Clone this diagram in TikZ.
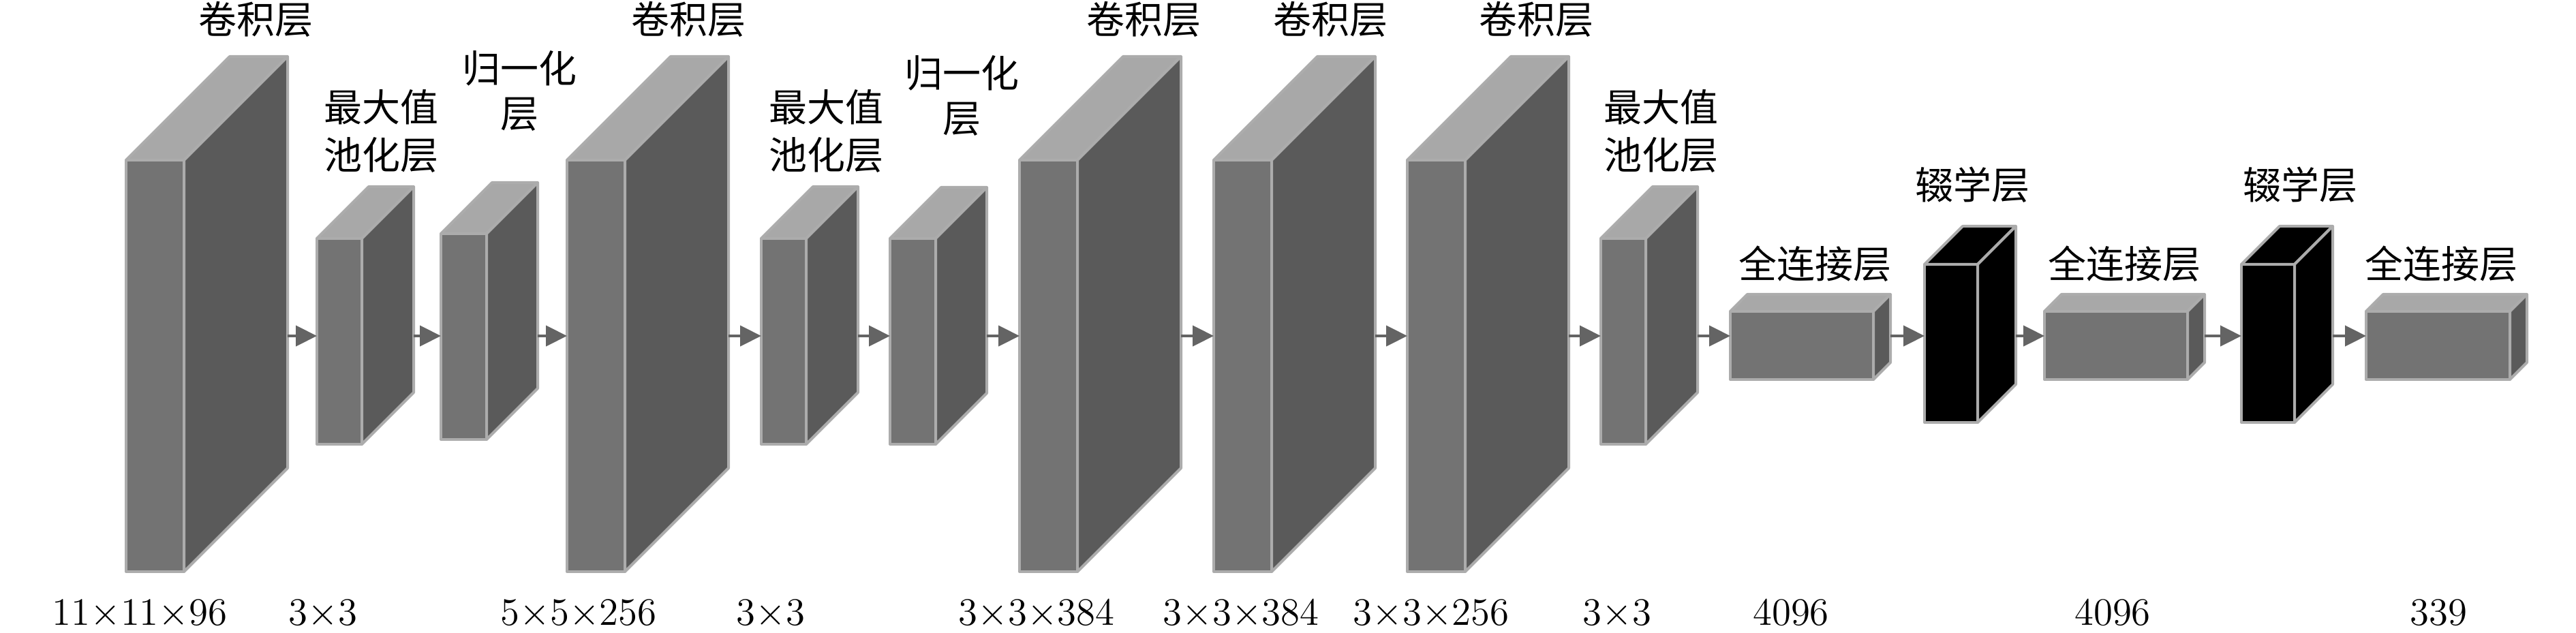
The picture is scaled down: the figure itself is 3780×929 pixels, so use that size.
\documentclass[tikz,border=0pt]{standalone}
\usepackage{fontspec}
\newfontfamily\cjk{Noto Sans CJK SC}
\usetikzlibrary{arrows.meta}
\definecolor{edgec}{RGB}{172,172,172}
\definecolor{frontc}{RGB}{115,115,115}
\definecolor{sidec}{RGB}{90,90,90}
\definecolor{topc}{RGB}{168,168,168}
\definecolor{arrc}{RGB}{100,100,100}
% #1 name, #2 left, #3 front top, #4 width, #5 height, #6 depth, #7 front, #8 side, #9 top
\newcommand\nnblk[9]{%
  \filldraw[blkface, fill=#9] ({#2},{#3}) -- ({#2+#6},{#3-#6}) -- ({#2+#4+#6},{#3-#6}) -- ({#2+#4},{#3}) -- cycle;
  \filldraw[blkface, fill=#8] ({#2+#4},{#3}) -- ({#2+#4+#6},{#3-#6}) -- ({#2+#4+#6},{#3+#5-#6}) -- ({#2+#4},{#3+#5}) -- cycle;
  \filldraw[blkface, fill=#7] ({#2},{#3}) rectangle ({#2+#4},{#3+#5});
  \coordinate (#1-in) at ({#2},493);
  \coordinate (#1-out) at ({#2+#4+#6},493);
}
\begin{document}
\begin{tikzpicture}[x=0.25pt, y=-0.25pt,
  blkface/.style={draw=edgec, line width=1pt, line join=round},
  arr/.style={draw=arrc, line width=1.1pt, -{Triangle[length=7.75pt,width=7.5pt]}},
  lab/.style={font=\cjk\fontsize{14pt}{17pt}\selectfont, anchor=base, inner sep=0pt},
  num/.style={font=\fontsize{14.25pt}{17pt}\selectfont, anchor=base, inner sep=0pt}]
\useasboundingbox (0,0) rectangle (3780,929);
% blocks
\nnblk{c1}{185}{235}{85}{604}{152}{frontc}{sidec}{topc}
\nnblk{p1}{465}{350}{66}{302}{76}{frontc}{sidec}{topc}
\nnblk{n1}{647}{343}{67}{302}{75}{frontc}{sidec}{topc}
\nnblk{c2}{832}{235}{85}{604}{152}{frontc}{sidec}{topc}
\nnblk{p2}{1117}{350}{66}{302}{76}{frontc}{sidec}{topc}
\nnblk{n2}{1306}{350}{67}{302}{75}{frontc}{sidec}{topc}
\nnblk{c3}{1496}{235}{85}{604}{152}{frontc}{sidec}{topc}
\nnblk{c4}{1781}{235}{85}{604}{152}{frontc}{sidec}{topc}
\nnblk{c5}{2065}{235}{85}{604}{152}{frontc}{sidec}{topc}
\nnblk{p3}{2349}{350}{66}{302}{76}{frontc}{sidec}{topc}
\nnblk{f1}{2539}{457}{210}{100}{25}{frontc}{sidec}{topc}
\nnblk{d1}{2824}{388}{78}{232}{56}{black}{black}{black}
\nnblk{f2}{3000}{457}{210}{100}{25}{frontc}{sidec}{topc}
\nnblk{d2}{3289}{388}{78}{232}{56}{black}{black}{black}
\nnblk{f3}{3472}{457}{211}{100}{25}{frontc}{sidec}{topc}
% arrows
\draw[arr] (c1-out) -- (p1-in);
\draw[arr] (p1-out) -- (n1-in);
\draw[arr] (n1-out) -- (c2-in);
\draw[arr] (c2-out) -- (p2-in);
\draw[arr] (p2-out) -- (n2-in);
\draw[arr] (n2-out) -- (c3-in);
\draw[arr] (c3-out) -- (c4-in);
\draw[arr] (c4-out) -- (c5-in);
\draw[arr] (c5-out) -- (p3-in);
\draw[arr] (p3-out) -- (f1-in);
\draw[arr] (f1-out) -- (d1-in);
\draw[arr] (d1-out) -- (f2-in);
\draw[arr] (f2-out) -- (d2-in);
\draw[arr] (d2-out) -- (f3-in);
% top labels
\node[lab] (lc1) at (375,50) {卷积层};
\node[lab] (lp1a) at (559,179) {最大值};
\node[lab] (lp1b) at (559,249) {池化层};
\node[lab] (ln1a) at (762,122) {归一化};
\node[lab] (ln1b) at (762,188) {层};
\node[lab] (lc2) at (1010,50) {卷积层};
\node[lab] (lp2a) at (1212,179) {最大值};
\node[lab] (lp2b) at (1212,249) {池化层};
\node[lab] (ln2a) at (1411,129) {归一化};
\node[lab] (ln2b) at (1411,195) {层};
\node[lab] (lc3) at (1678,50) {卷积层};
\node[lab] (lc4) at (1952,50) {卷积层};
\node[lab] (lc5) at (2254,50) {卷积层};
\node[lab] (lp3a) at (2437,179) {最大值};
\node[lab] (lp3b) at (2437,249) {池化层};
\node[lab] (lf1) at (2663,409) {全连接层};
\node[lab] (ld1) at (2894,293) {辍学层};
\node[lab] (lf2) at (3117,409) {全连接层};
\node[lab] (ld2) at (3375,293) {辍学层};
\node[lab] (lf3) at (3582,409) {全连接层};
% bottom labels
\node[num] (b1) at (205,917) {11$\times$11$\times$96};
\node[num] (b2) at (474,917) {3$\times$3};
\node[num] (b3) at (849,917) {5$\times$5$\times$256};
\node[num] (b4) at (1131,917) {3$\times$3};
\node[num] (b5) at (1521,917) {3$\times$3$\times$384};
\node[num] (b6) at (1821,917) {3$\times$3$\times$384};
\node[num] (b7) at (2100,917) {3$\times$3$\times$256};
\node[num] (b8) at (2373,917) {3$\times$3};
\node[num] (b9) at (2628,917) {4096};
\node[num] (b10) at (3100,917) {4096};
\node[num] (b11) at (3578,917) {339};
\end{tikzpicture}
\end{document}
